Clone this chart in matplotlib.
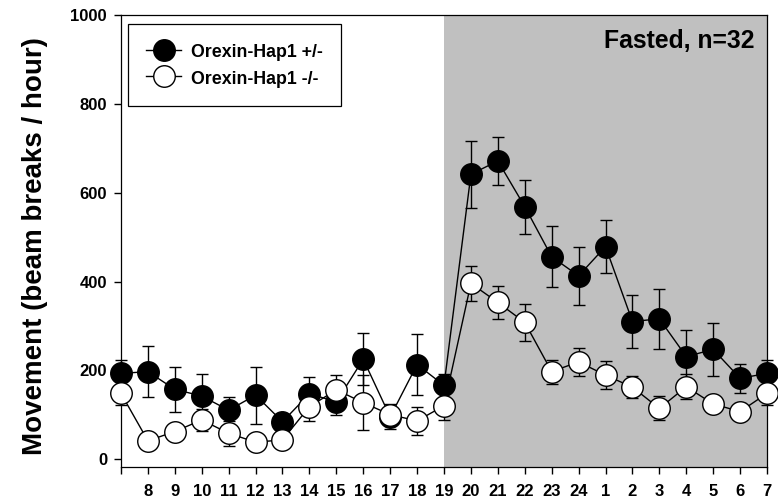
import matplotlib
matplotlib.use("Agg")
import matplotlib.pyplot as plt

plt.rcParams['font.family'] = ['Liberation Sans', 'DejaVu Sans']
plt.rcParams['font.weight'] = 'bold'

# hours of the day, 7 am to 7 am next day
hours = [7, 8, 9, 10, 11, 12, 13, 14, 15, 16, 17, 18, 19, 20, 21, 22, 23, 24,
         1, 2, 3, 4, 5, 6, 7]
tick_labels = [''] + [str(h) for h in hours[1:]]

# Orexin-Hap1 +/- (filled)
het_mean = [193, 197, 157, 142, 110, 144, 84, 147, 129, 225, 95, 213, 166,
            642, 672, 569, 456, 413, 479, 310, 316, 231, 247, 182, 193]
het_err = [30, 58, 51, 50, 30, 64, 15, 38, 30, 58, 28, 68, 26,
           76, 55, 61, 69, 66, 59, 60, 68, 59, 60, 33, 30]

# Orexin-Hap1 -/- (open)
ko_mean = [148, 41, 62, 88, 58, 38, 43, 118, 156, 127, 100, 86, 120,
           396, 353, 308, 197, 219, 189, 162, 114, 163, 124, 107, 148]
ko_err = [27, 10, 10, 25, 28, 8, 8, 33, 33, 62, 20, 31, 31,
          40, 37, 41, 27, 32, 31, 25, 27, 28, 10, 20, 27]

x = list(range(len(hours)))

fig = plt.figure(figsize=(7.78, 5.03), dpi=100)
ax = fig.add_axes([0.1555, 0.0716, 0.8304, 0.8976])

# fasted (dark) period shading
ax.axvspan(12, 24, color='#c0c0c0', lw=0, zorder=0)

common = dict(marker='o', ms=15.5, mew=1, mec='black', color='black', lw=1,
              elinewidth=1, capsize=4.4, capthick=1, clip_on=False)
h1 = ax.errorbar(x, het_mean, yerr=het_err, mfc='black',
                 label='Orexin-Hap1 +/-', zorder=3, **common)
h2 = ax.errorbar(x, ko_mean, yerr=ko_err, mfc='white',
                 label='Orexin-Hap1 -/-', zorder=4, **common)
for h in (h1, h2):
    for art in h.lines[1] + h.lines[2]:
        art.set_clip_on(False)

ax.set_xlim(0, 24)
ax.set_ylim(-18, 1000)
ax.set_xticks(x)
ax.set_xticklabels(tick_labels)
ax.set_yticks([0, 200, 400, 600, 800, 1000])
ax.tick_params(axis='x', direction='out', length=5, width=1, pad=7, labelsize=12)
ax.tick_params(axis='y', direction='out', length=5, width=1, pad=5, labelsize=12)
for lab in ax.get_xticklabels() + ax.get_yticklabels():
    lab.set_fontweight('bold')
for sp in ax.spines.values():
    sp.set_linewidth(0.9)

ax.set_ylabel('Movement (beam breaks / hour)', fontsize=20, fontweight='bold')
ax.yaxis.set_label_coords(-0.113, 0.49)

ax.text(0.981, 0.943, 'Fasted, n=32', transform=ax.transAxes, ha='right',
        va='center', fontsize=17.8, fontweight='bold')

leg = ax.legend(loc='upper left', bbox_to_anchor=(0.011, 0.981),
                borderaxespad=0, fancybox=False, framealpha=1,
                edgecolor='black', fontsize=12.8, handlelength=2.0,
                handleheight=1.3, handletextpad=0.56, borderpad=1.0,
                labelspacing=0.39)
leg.get_frame().set_linewidth(0.9)
for t in leg.get_texts():
    t.set_fontweight('bold')

fig.savefig('out.png', dpi=100)
